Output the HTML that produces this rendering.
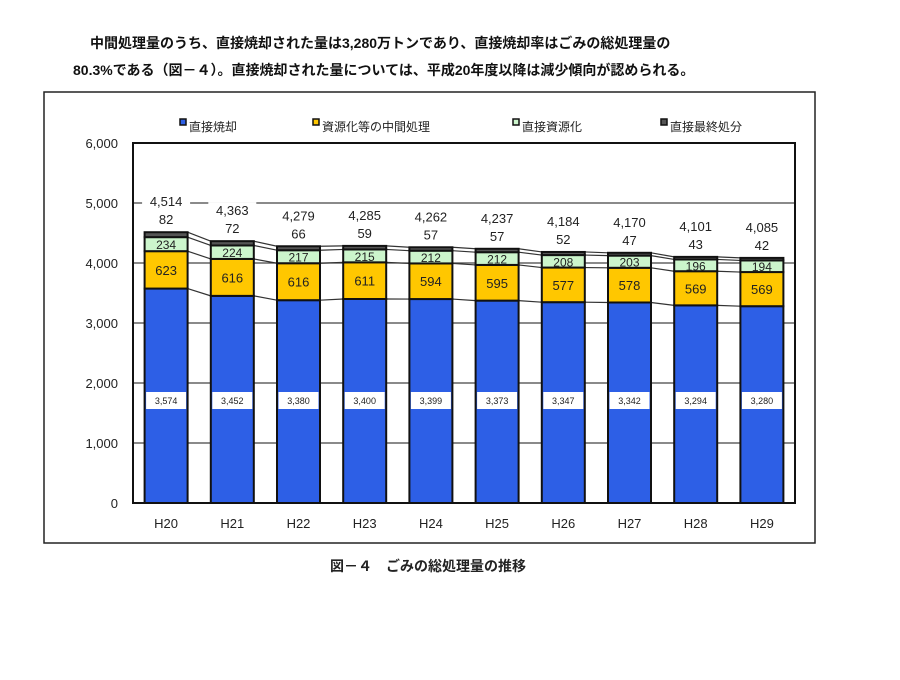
<!DOCTYPE html>
<html><head><meta charset="utf-8"><style>
body{margin:0;background:#fff;width:900px;height:675px;overflow:hidden;font-family:"Liberation Sans","Noto Sans CJK JP",sans-serif}
svg text{font-family:"Liberation Sans","Noto Sans CJK JP",sans-serif}
</style></head><body>
<svg width="900" height="675">
<text x="90" y="48" font-size="14" font-weight="bold" fill="#111">中間処理量のうち、直接焼却された量は3,280万トンであり、直接焼却率はごみの総処理量の</text>
<text x="73" y="75" font-size="14" font-weight="bold" fill="#111">80.3%である（図－４）。直接焼却された量については、平成20年度以降は減少傾向が認められる。</text>
<rect x="44" y="92" width="771" height="451" fill="none" stroke="#222" stroke-width="1.5"/>
<g id="legend"></g>
<g id="grid"></g>
<g id="links"></g>
<g id="bars"></g>
<g id="labels"></g>
<g id="axes"></g>
<text x="330" y="571" font-size="14" font-weight="bold" fill="#222">図－４　ごみの総処理量の推移</text>
</svg>
<script>
const categories=["H20","H21","H22","H23","H24","H25","H26","H27","H28","H29"];
const directIncineration=[3574,3452,3380,3400,3399,3373,3347,3342,3294,3280];
const intermediate=[623,616,616,611,594,595,577,578,569,569];
const directRecycling=[234,224,217,215,212,212,208,203,196,194];
const directLandfill=[82,72,66,59,57,57,52,47,43,42];
const totals=[4514,4363,4279,4285,4262,4237,4184,4170,4101,4085];
const yTicks=[0,1000,2000,3000,4000,5000,6000];
const seriesNames=["直接焼却","資源化等の中間処理","直接資源化","直接最終処分"];
const NS="http://www.w3.org/2000/svg";
const L=133,R=795,T=143,B=503,YMAX=6000;
const y=v=>B-(v/YMAX)*(B-T);
const step=(R-L)/categories.length;
const xc=i=>L+step*(i+0.5);
const BW=43;
const colors=["#2d5fe6","#ffc700","#ccf5cc","#555"];
function mk(parent,tag,attrs,text){const e=document.createElementNS(NS,tag);for(const k in attrs)e.setAttribute(k,attrs[k]);if(text!==undefined)e.textContent=text;document.getElementById(parent).appendChild(e);return e;}
// grid
yTicks.forEach(t=>{
 if(t>0&&t<YMAX){const g=mk("grid","line",{x1:L,x2:R,y1:y(t),y2:y(t),stroke:"#444","stroke-width":1.2});
 
 }
 const tx=mk("axes","text",{x:118,y:y(t)+5,"font-size":13,"text-anchor":"end",fill:"#222"},t.toLocaleString("en-US"));
 
 
});
const fr=mk("axes","rect",{x:L,y:T,width:R-L,height:B-T,fill:"none",stroke:"#111","stroke-width":2});


categories.forEach((c,i)=>{
 const tx=mk("axes","text",{x:xc(i),y:528,"font-size":13,"text-anchor":"middle",fill:"#222"},c);
 
 
});
const series=[directIncineration,intermediate,directRecycling,directLandfill];
// connectors
for(let i=0;i<categories.length-1;i++){
 let c0=0,c1=0;
 for(let s=0;s<4;s++){c0+=series[s][i];c1+=series[s][i+1];
  const ln=mk("links","line",{x1:xc(i)+BW/2,y1:y(c0),x2:xc(i+1)-BW/2,y2:y(c1),stroke:"#333","stroke-width":1.2});
  
  }
}
// bars
categories.forEach((c,i)=>{
 let cum=0;
 series.forEach((arr,s)=>{
  const v=arr[i];const r=mk("bars","rect",{x:xc(i)-BW/2,y:y(cum+v),width:BW,height:y(cum)-y(cum+v),fill:colors[s],stroke:"#111","stroke-width":2});
  
  
  cum+=v;
 });
 // labels
 const bl=mk("labels","rect",{x:xc(i)-20,y:392,width:40,height:17,fill:"#fff"});
 
 
 const t0=mk("labels","text",{x:xc(i),y:404,"font-size":9,"text-anchor":"middle",fill:"#222"},directIncineration[i].toLocaleString("en-US"));
 
 
 const b1=directIncineration[i];
 const t1=mk("labels","text",{x:xc(i),y:(y(b1)+y(b1+intermediate[i]))/2+5,"font-size":13,"text-anchor":"middle",fill:"#222"},intermediate[i]);
 
 
 const b2=b1+intermediate[i];
 const t2=mk("labels","text",{x:xc(i),y:(y(b2)+y(b2+directRecycling[i]))/2+5,"font-size":12,"text-anchor":"middle",fill:"#222"},directRecycling[i]);
 
 
 const top=y(b2+directRecycling[i]+directLandfill[i]);
 const t3=mk("labels","text",{x:xc(i),y:top-8,"font-size":13,"text-anchor":"middle",fill:"#222"},directLandfill[i]);
 
 
 const tb=mk("labels","rect",{x:xc(i)-24,y:top-39,width:48,height:16,fill:"#fff"});
 
 
 const t4=mk("labels","text",{x:xc(i),y:top-26,"font-size":13,"text-anchor":"middle",fill:"#222"},totals[i].toLocaleString("en-US"));
 
 
});
// legend
const lx=[180,313,513,661];
seriesNames.forEach((n,s)=>{
 const r=mk("legend","rect",{x:lx[s],y:119,width:6,height:6,fill:colors[s],stroke:"#111","stroke-width":1.5});
 
 
 const t=mk("legend","text",{x:lx[s]+9,y:131,"font-size":12,fill:"#222"},n);
 
 
});
</script>
</body></html>
